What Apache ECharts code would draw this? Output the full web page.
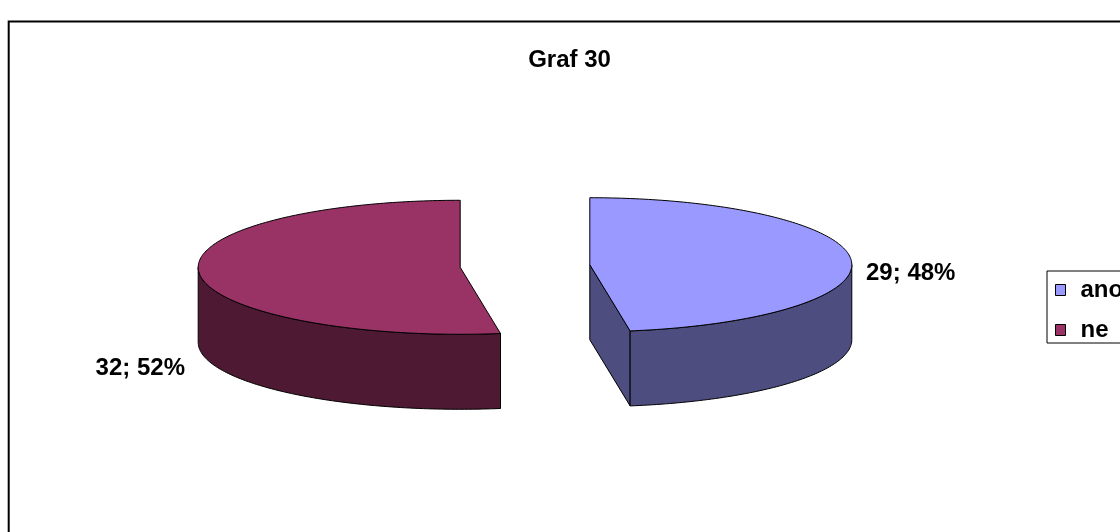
<!DOCTYPE html>
<html>
<head>
<meta charset="utf-8">
<title>Graf 30</title>
<script src="https://cdn.jsdelivr.net/npm/echarts@6/dist/echarts.min.js"></script>
<style>
  html, body { margin: 0; padding: 0; background: #fff; }
  #chart { width: 1120px; height: 532px; }
</style>
</head>
<body>
<div id="chart"></div>
<script>
// Answers for Graf 30
const categories = ['ano', 'ne'];
const counts = [29, 32];
const topColors = ['#9999FF', '#993366'];
const sideColors = ['#4D4D80', '#4D1933'];

const FONT = '"Liberation Sans", Arial, Helvetica, sans-serif';

// Tilted pie geometry, in pixels
const PIE = { cx: 525, cy: 266, rx: 262, ry: 67, depth: 75, explode: 65 };
// Where each data label sits, relative to the outer mid point of its slice
const LABEL_OFFSETS = [
  { dx: 15, dy: 14, align: 'left' },
  { dx: -14, dy: 96, align: 'right' }
];

const total = counts.reduce((s, v) => s + v, 0);
const starts = counts.map((_, i) => counts.slice(0, i).reduce((s, v) => s + v, 0));

// angle t runs clockwise from the back of the pie (12 o'clock)
function pt(cx, cy, t, dy) {
  return [cx + PIE.rx * Math.sin(t), cy - PIE.ry * Math.cos(t) + (dy || 0)];
}
function arc(cx, cy, a, b, dy) {
  const n = Math.max(2, Math.ceil((b - a) / (Math.PI / 180)));
  const out = [];
  for (let k = 0; k <= n; k++) out.push(pt(cx, cy, a + (b - a) * k / n, dy));
  return out;
}

function renderSlice(i) {
  return function (params, api) {
    const value = api.value(0);
    const a = starts[i] / total * 2 * Math.PI;
    const b = a + value / total * 2 * Math.PI;
    const mid = (a + b) / 2;
    const cx = PIE.cx + PIE.explode * Math.sin(mid);
    const cy = PIE.cy - PIE.explode * (PIE.ry / PIE.rx) * Math.cos(mid);
    const D = PIE.depth;
    const edge = { stroke: '#000', lineWidth: 1, lineJoin: 'round' };
    const children = [];

    // radial cut faces that turn toward the viewer
    [[a, -1], [b, 1]].forEach(([t, s]) => {
      if (s * Math.sin(t) > 1e-6) {
        const p = pt(cx, cy, t);
        children.push({
          type: 'polygon',
          shape: { points: [[cx, cy], p, [p[0], p[1] + D], [cx, cy + D]] },
          style: Object.assign({ fill: sideColors[i] }, edge)
        });
      }
    });

    // front part of the curved outer wall
    const wa = Math.max(a, Math.PI / 2);
    const wb = Math.min(b, 1.5 * Math.PI);
    if (wb > wa) {
      const upper = arc(cx, cy, wa, wb, 0);
      const lower = arc(cx, cy, wa, wb, D).reverse();
      children.push({
        type: 'polygon',
        shape: { points: upper.concat(lower) },
        style: Object.assign({ fill: sideColors[i] }, edge)
      });
    }

    // top face
    children.push({
      type: 'polygon',
      shape: { points: [[cx, cy]].concat(arc(cx, cy, a, b, 0)) },
      style: Object.assign({ fill: topColors[i] }, edge)
    });

    // data label: "value; percent%"
    const pct = Math.round(value / total * 100);
    const m = pt(cx, cy, mid);
    const off = LABEL_OFFSETS[i];
    children.push({
      type: 'text',
      x: m[0] + off.dx,
      y: m[1] + off.dy,
      style: {
        text: value + '; ' + pct + '%',
        fill: '#000',
        font: 'bold 24px ' + FONT,
        align: off.align,
        verticalAlign: 'middle'
      }
    });

    return { type: 'group', children: children };
  };
}

const chart = echarts.init(document.getElementById('chart'), null, { renderer: 'canvas' });

chart.setOption({
  backgroundColor: '#fff',
  animation: false,
  graphic: [
    {
      type: 'rect',
      shape: { x: 8.7, y: 21.5, width: 1400, height: 800 },
      style: { fill: 'none', stroke: '#000', lineWidth: 2 },
      silent: true,
      z: 0
    },
    {
      type: 'text',
      x: 569.5,
      y: 60,
      style: {
        text: 'Graf 30',
        fill: '#000',
        font: 'bold 24px ' + FONT,
        align: 'center',
        verticalAlign: 'middle'
      },
      silent: true
    }
  ],
  legend: {
    orient: 'vertical',
    left: 1047,
    top: 271,
    padding: [7, 30, 1, 8],
    itemWidth: 10,
    itemHeight: 11,
    itemGap: 16,
    icon: 'rect',
    borderColor: '#000',
    borderWidth: 1,
    backgroundColor: '#fff',
    selectedMode: false,
    itemStyle: { borderColor: '#000', borderWidth: 1 },
    textStyle: {
      fontFamily: FONT,
      fontWeight: 'bold',
      fontSize: 24,
      color: '#000',
      padding: [0, 0, 0, 10]
    },
    data: categories
  },
  series: categories.map((name, i) => ({
    type: 'custom',
    name: name,
    coordinateSystem: 'none',
    silent: true,
    itemStyle: { color: topColors[i] },
    renderItem: renderSlice(i),
    data: [[counts[i]]]
  }))
});
</script>
</body>
</html>
